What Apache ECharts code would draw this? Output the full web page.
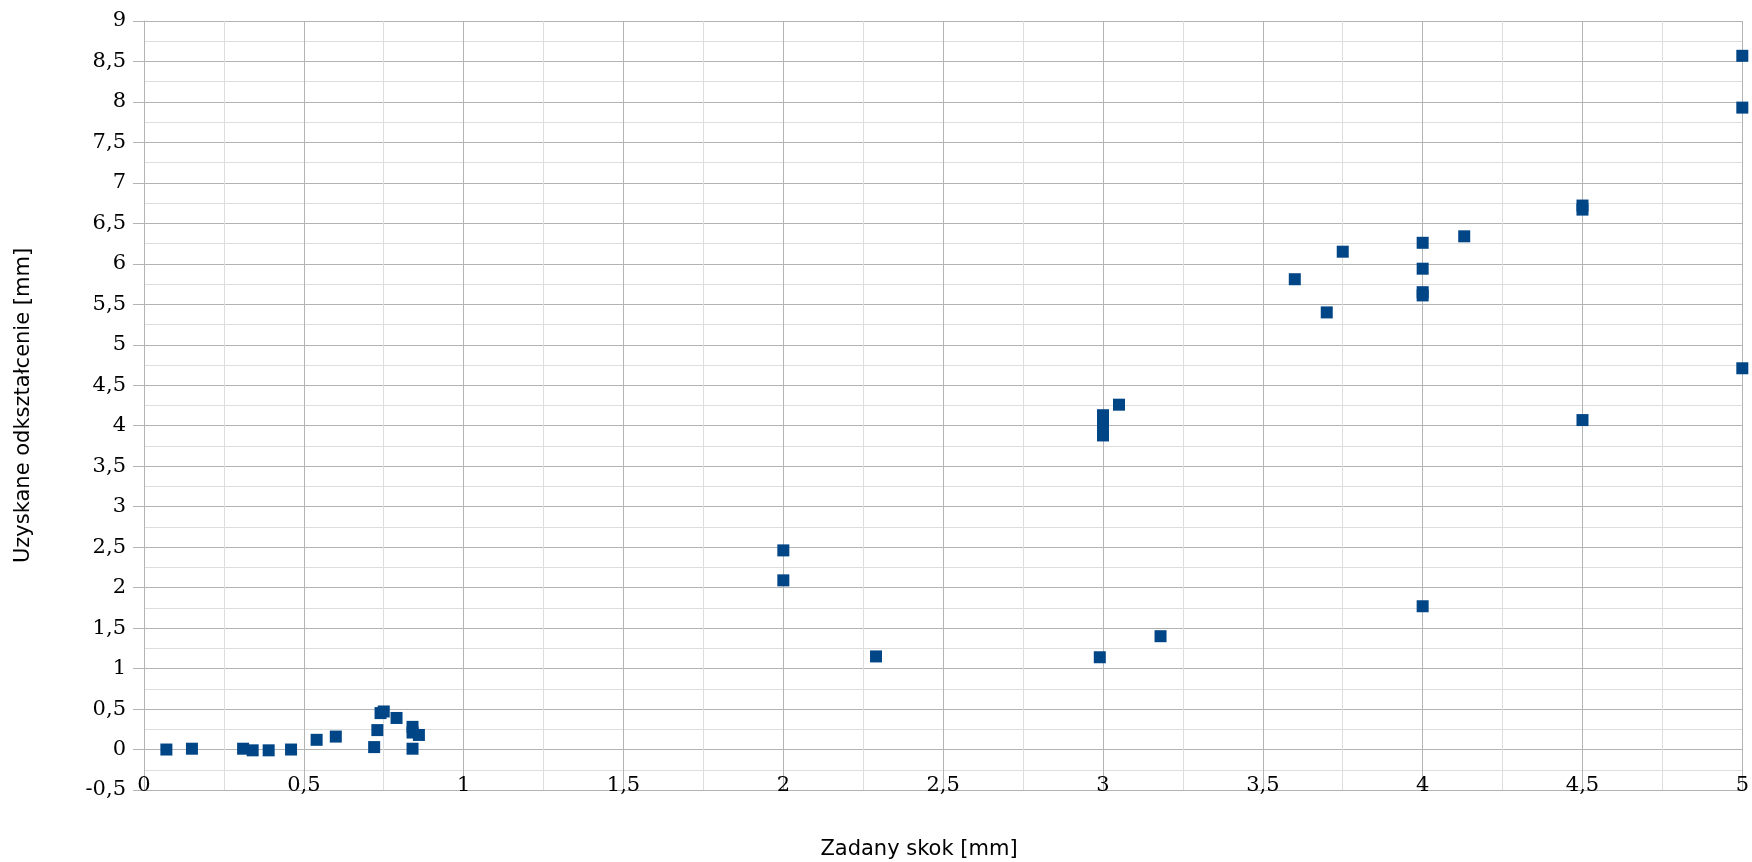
<!DOCTYPE html>
<html>
<head>
<meta charset="utf-8">
<script src="https://cdn.jsdelivr.net/npm/echarts@6/dist/echarts.min.js"></script>
<style>
html,body{margin:0;padding:0;background:#fff;}
#chart{width:1752px;height:862px;}
</style>
</head>
<body>
<div id="chart"></div>
<script>
// Data
const xValues = [0.07, 0.15, 0.31, 0.34, 0.39, 0.46, 0.54, 0.60, 0.72, 0.73, 0.74, 0.75, 0.79, 0.84, 0.84, 0.86, 0.84,
                 2.00, 2.00, 2.29, 2.99, 3.18, 3.00, 3.00, 3.00, 3.00, 3.05,
                 3.60, 3.70, 3.75, 4.00, 4.00, 4.00, 4.00, 4.00, 4.13, 4.50, 4.50, 4.50, 5.00, 5.00, 5.00];
const yValues = [0.00, 0.01, 0.01, -0.01, -0.01, 0.00, 0.12, 0.16, 0.03, 0.24, 0.45, 0.47, 0.39, 0.28, 0.21, 0.18, 0.01,
                 2.46, 2.09, 1.15, 1.14, 1.40, 4.13, 4.05, 3.97, 3.88, 4.26,
                 5.81, 5.40, 6.15, 6.26, 5.94, 5.65, 5.61, 1.77, 6.34, 6.72, 6.67, 4.07, 8.57, 7.93, 4.71];
const xAxisTitle = 'Zadany skok [mm]';
const yAxisTitle = 'Uzyskane odkształcenie [mm]';
const xMin = 0, xMax = 5, xStep = 0.5;
const yMin = -0.5, yMax = 9, yStep = 0.5;

const points = xValues.map((x, i) => [x, yValues[i]]);
const fmt = v => String(v).replace('.', ',');

const chart = echarts.init(document.getElementById('chart'), null, {renderer: 'canvas'});
chart.setOption({
  animation: false,
  backgroundColor: '#ffffff',
  title: {
    text: xAxisTitle,
    left: 914,
    top: 834,
    textAlign: 'center',
    textStyle: {fontFamily: 'DejaVu Sans', fontSize: 21, fontWeight: 'normal', color: '#000'}
  },
  grid: {left: 144, right: 6, top: 21, bottom: 72, containLabel: false},
  xAxis: {
    type: 'value', min: xMin, max: xMax, interval: xStep,
    axisLine: {show: true, onZero: false, lineStyle: {color: '#b3b3b3', width: 1}},
    axisTick: {show: false},
    axisLabel: {margin: -15, formatter: fmt, fontFamily: 'DejaVu Serif', fontSize: 21, color: '#000'},
    splitLine: {show: true, lineStyle: {color: '#b3b3b3', width: 1}},
    minorTick: {show: false, splitNumber: 2},
    minorSplitLine: {show: true, lineStyle: {color: '#dddddd', width: 1}}
  },
  yAxis: {
    type: 'value', min: yMin, max: yMax, interval: yStep,
    name: yAxisTitle, nameLocation: 'middle', nameRotate: 90, nameGap: 110,
    nameTextStyle: {fontFamily: 'DejaVu Sans', fontSize: 21, color: '#000'},
    axisLine: {show: true, onZero: false, lineStyle: {color: '#b3b3b3', width: 1}},
    axisTick: {show: true, inside: false, length: 11, lineStyle: {color: '#b3b3b3'}},
    axisLabel: {margin: 18, formatter: fmt, fontFamily: 'DejaVu Serif', fontSize: 21, color: '#000'},
    splitLine: {show: true, lineStyle: {color: '#b3b3b3', width: 1}},
    minorTick: {show: false, splitNumber: 2},
    minorSplitLine: {show: true, lineStyle: {color: '#dddddd', width: 1}}
  },
  series: [{
    type: 'scatter',
    data: points,
    symbol: 'rect',
    symbolSize: 12,
    clip: false,
    itemStyle: {color: '#004586', opacity: 1}
  }]
});
</script>
</body>
</html>
